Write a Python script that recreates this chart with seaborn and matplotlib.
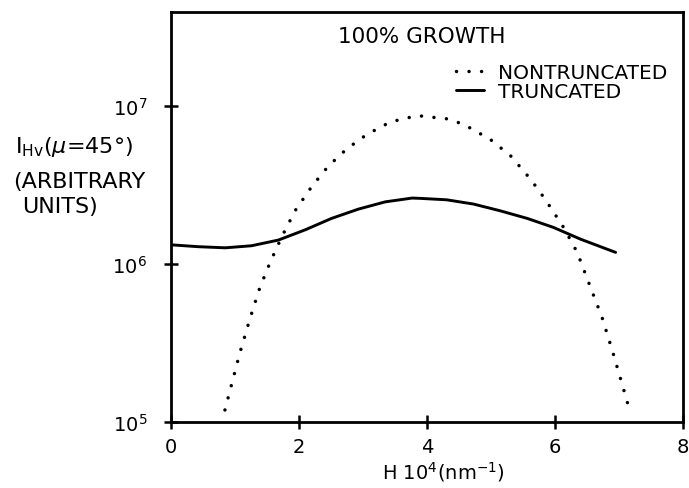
import numpy as np
import pandas as pd
import matplotlib
matplotlib.use("Agg")
import matplotlib.pyplot as plt
import seaborn as sns

# Data (H in 10^4 nm^-1, log10 of intensity)
h_nontrunc = [0.845, 0.95, 1.08, 1.24, 1.39, 1.55, 1.73, 1.94, 2.20, 2.46, 2.75,
              3.06, 3.43, 3.85, 4.31, 4.57, 4.99, 5.31, 5.62, 5.85, 6.14, 6.35,
              6.56, 6.74, 6.90, 7.03, 7.16]
log_nontrunc = [5.076, 5.24, 5.44, 5.66, 5.85, 6.01, 6.17, 6.337, 6.49, 6.62, 6.73,
                6.82, 6.90, 6.94, 6.92, 6.886, 6.79, 6.685, 6.538, 6.41, 6.23, 6.074,
                5.85, 5.66, 5.45, 5.27, 5.087]

h_trunc = [0.0, 0.43, 0.85, 1.26, 1.68, 2.10, 2.51, 2.93, 3.35, 3.77, 3.90,
           4.31, 4.73, 5.15, 5.57, 5.98, 6.40, 6.95]
log_trunc = [6.122, 6.110, 6.103, 6.116, 6.152, 6.217, 6.289, 6.348, 6.394, 6.418, 6.416,
             6.407, 6.380, 6.337, 6.289, 6.232, 6.158, 6.074]

labels = ["NONTRUNCATED", "TRUNCATED"]
x_ticks = [0, 2, 4, 6, 8]
y_ticks = [1e5, 1e6, 1e7]
y_tick_labels = [r"$10^5$", r"$10^6$", r"$10^7$"]
ylabel_lines = [r"I$_{\mathregular{Hv}}$($\mu$=45°)", "(ARBITRARY", "UNITS)"]

df_n = pd.DataFrame({"H": h_nontrunc, "I": 10 ** np.array(log_nontrunc), "series": labels[0]})
df_t = pd.DataFrame({"H": h_trunc, "I": 10 ** np.array(log_trunc), "series": labels[1]})

sns.set_style("ticks", {"text.color": "black", "xtick.color": "black",
                        "ytick.color": "black", "axes.labelcolor": "black",
                        "axes.edgecolor": "black"})
plt.rcParams["font.family"] = ["DejaVu Sans"]

fig = plt.figure(figsize=(6.89, 4.89), dpi=100)
ax = fig.add_axes([0.248, 0.135, 0.743, 0.838])

sns.lineplot(data=df_n, x="H", y="I", ax=ax, color="black", lw=2.5,
             linestyle=(0, (0.01, 3.6)), dash_capstyle="round", label=labels[0],
             estimator=None, sort=False)
sns.lineplot(data=df_t, x="H", y="I", ax=ax, color="black", lw=2.1,
             label=labels[1], estimator=None, sort=False)

ax.set_yscale("log")
ax.set_xlim(0, 8)
ax.set_ylim(1e5, 10 ** 7.595)
ax.set_xticks(x_ticks)
ax.set_xticklabels([str(t) for t in x_ticks])
ax.set_yticks(y_ticks)
ax.set_yticklabels(y_tick_labels)
ax.minorticks_off()
ax.tick_params(axis="both", direction="inout", length=10, width=1.8, colors="black",
               labelsize=14)
ax.tick_params(axis="y", pad=12)
ax.tick_params(axis="x", pad=6)
for s in ax.spines.values():
    s.set_linewidth(2.0)
    s.set_color("black")
ax.set_xlabel("")
ax.set_ylabel("")

ax.text(0.491, 0.942, "100% GROWTH", transform=ax.transAxes, ha="center", va="center",
        fontsize=15.5, color="black")
leg = ax.legend(loc="upper right", bbox_to_anchor=(0.985, 0.895), frameon=False,
                fontsize=14.5, handlelength=1.35, handletextpad=0.7,
                labelspacing=0.0, borderaxespad=0.0)
for t in leg.get_texts():
    t.set_color("black")

ylab_y = [147, 182, 207]
ylab_x = [15, 13, 22]
for txt, yy, xx in zip(ylabel_lines, ylab_y, ylab_x):
    fig.text(xx / 689, 1 - yy / 489, txt, ha="left", va="center", fontsize=16,
             color="black")
fig.text(0.643, 0.035, r"H 10$^4$(nm$^{-1}$)", ha="center", va="center", fontsize=14,
         color="black")

fig.savefig("out.png", dpi=100)
